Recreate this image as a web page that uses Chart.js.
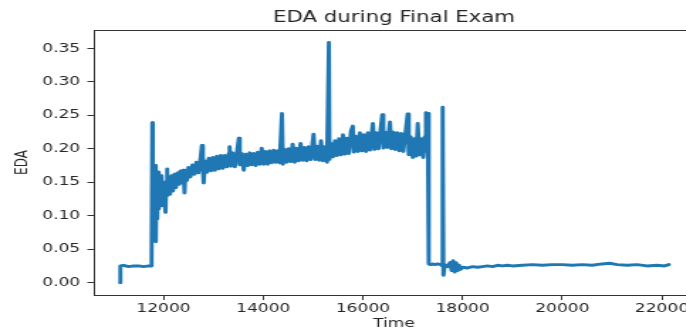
<!DOCTYPE html>
<html>
<head>
<meta charset="utf-8">
<script src="https://cdn.jsdelivr.net/npm/chart.js@4/dist/chart.umd.min.js"></script>
<style>
  html, body { margin: 0; padding: 0; background: #fff; }
  #wrap { width: 686px; height: 332px; overflow: hidden; }
  /* the reference picture is stretched sideways, so the canvas is too */
  #edaChart { transform: scaleX(1.42); transform-origin: 0 0; }
</style>
</head>
<body>
<div id="wrap"><canvas id="edaChart" width="489" height="332"></canvas></div>
<script>
// EDA readings
const timeValues = [
  11130, 11135, 11200, 11300, 11400, 11500, 11600, 11700, 11760,
  11775, 11785, 11800, 11815, 11830, 11845, 11860, 11875, 11890, 11905, 11920, 11940, 11960, 11980,
  12000, 12020, 12040, 12055, 12066, 12080, 12100, 12130, 12160, 12190, 12220, 12250, 12280, 12310,
  12340, 12370, 12400, 12421, 12440, 12470, 12500, 12540, 12580, 12620, 12660, 12700, 12740, 12770,
  12790, 12805, 12830, 12870, 12910, 12950, 12990, 13030, 13070, 13110, 13150, 13190, 13230, 13270,
  13310, 13326, 13350, 13390, 13430, 13470, 13511, 13530, 13570, 13610, 13650, 13690, 13730, 13770,
  13810, 13850, 13890, 13930, 13970, 14010, 14050, 14090, 14130, 14170, 14210, 14250, 14290, 14330,
  14376, 14395, 14430, 14470, 14510, 14550, 14590, 14630, 14670, 14710, 14750, 14790, 14830, 14870,
  14910, 14950, 15010, 15040, 15080, 15120, 15160, 15200, 15240, 15280, 15317, 15330, 15360, 15400,
  15440, 15480, 15520, 15560, 15600, 15640, 15680, 15720, 15760, 15798, 15820, 15860, 15900, 15940,
  15980, 16020, 16060, 16100, 16140, 16200, 16230, 16270, 16310, 16350, 16389, 16410, 16450, 16490,
  16543, 16570, 16610, 16650, 16690, 16730, 16770, 16810, 16850, 16897, 16920, 16960, 17000, 17040,
  17070, 17100, 17130, 17170, 17210, 17240, 17265, 17285, 17300, 17320, 17360, 17400, 17450, 17500,
  17560, 17590, 17600, 17615, 17640, 17700, 17750, 17780, 17810, 17840, 17870, 17900, 17930, 17960,
  18000, 18100, 18200, 18300, 18400, 18500, 18600, 18700, 18800, 18900, 19000, 19200, 19400, 19600,
  19800, 20000, 20200, 20400, 20600, 20800, 20950, 21100, 21300, 21500, 21700, 21900, 22050, 22137
];
const edaValues = [
  0.000, 0.025, 0.026, 0.024, 0.025, 0.025, 0.024, 0.025, 0.025,
  0.239, 0.110, 0.170, 0.080, 0.175, 0.061, 0.160, 0.095, 0.165, 0.110, 0.150, 0.115, 0.160, 0.120,
  0.150, 0.125, 0.105, 0.150, 0.170, 0.130, 0.157, 0.132, 0.160, 0.137, 0.162, 0.142, 0.164, 0.147,
  0.167, 0.149, 0.168, 0.134, 0.167, 0.153, 0.172, 0.158, 0.176, 0.162, 0.180, 0.164, 0.184, 0.205,
  0.168, 0.149, 0.182, 0.165, 0.186, 0.167, 0.187, 0.168, 0.189, 0.170, 0.190, 0.171, 0.190, 0.173,
  0.193, 0.203, 0.174, 0.194, 0.173, 0.193, 0.216, 0.176, 0.193, 0.168, 0.192, 0.175, 0.194, 0.176,
  0.193, 0.175, 0.195, 0.177, 0.201, 0.177, 0.196, 0.177, 0.197, 0.179, 0.198, 0.180, 0.197, 0.179,
  0.253, 0.177, 0.199, 0.180, 0.200, 0.181, 0.207, 0.180, 0.201, 0.182, 0.208, 0.183, 0.202, 0.182,
  0.203, 0.184, 0.222, 0.184, 0.204, 0.183, 0.212, 0.182, 0.203, 0.180, 0.359, 0.184, 0.208, 0.188,
  0.212, 0.190, 0.215, 0.191, 0.221, 0.192, 0.216, 0.193, 0.226, 0.234, 0.195, 0.219, 0.196, 0.224,
  0.197, 0.221, 0.196, 0.224, 0.198, 0.238, 0.199, 0.224, 0.200, 0.226, 0.251, 0.201, 0.225, 0.202,
  0.240, 0.200, 0.225, 0.199, 0.224, 0.197, 0.223, 0.196, 0.221, 0.252, 0.191, 0.218, 0.187, 0.215,
  0.189, 0.238, 0.191, 0.215, 0.187, 0.218, 0.254, 0.196, 0.253, 0.028, 0.027, 0.028, 0.027, 0.028,
  0.027, 0.025, 0.262, 0.011, 0.027, 0.024, 0.030, 0.018, 0.033, 0.016, 0.030, 0.018, 0.026, 0.020,
  0.023, 0.022, 0.024, 0.023, 0.024, 0.025, 0.024, 0.026, 0.025, 0.026, 0.025, 0.026, 0.027, 0.026,
  0.027, 0.027, 0.026, 0.027, 0.026, 0.028, 0.029, 0.027, 0.026, 0.027, 0.025, 0.026, 0.025, 0.027
];
const xTickValues = [12000, 14000, 16000, 18000, 20000, 22000];
const yTickValues = [0.00, 0.05, 0.10, 0.15, 0.20, 0.25, 0.30, 0.35];

const textColor = '#262626';
const fontFamily = '"DejaVu Sans", sans-serif';

// matplotlib style box round the plot
const frameBox = {
    id: 'frameBox',
    afterDraw(chart) {
        const a = chart.chartArea;
        const ctx = chart.ctx;
        ctx.save();
        ctx.strokeStyle = '#333';
        ctx.lineWidth = 1;
        ctx.strokeRect(a.left + 0.5, a.top + 0.5, a.right - a.left - 1, a.bottom - a.top);
        ctx.restore();
    }
};

const ctx = document.getElementById('edaChart');
new Chart(ctx, {
    type: 'line',
    data: {
        datasets: [{
            label: 'EDA',
            data: timeValues.map((t, i) => ({ x: t, y: edaValues[i] })),
            borderColor: '#1f77b4',
            borderWidth: 2.9,
            borderJoinStyle: 'round',
            borderCapStyle: 'round',
            pointRadius: 0,
            tension: 0,
            fill: false
        }]
    },
    options: {
        responsive: false,
        animation: false,
        devicePixelRatio: 1,
        layout: { padding: 0 },
        plugins: {
            legend: { display: false },
            tooltip: { enabled: false },
            title: {
                display: true,
                fullSize: false,
                text: 'EDA during Final Exam',
                color: textColor,
                font: { family: fontFamily, size: 15, weight: 'normal' },
                padding: { top: 9, bottom: 3 }
            }
        },
        scales: {
            x: {
                type: 'linear',
                min: 10600,
                max: 22650,
                afterBuildTicks: s => { s.ticks = xTickValues.map(v => ({ value: v })); },
                afterFit: s => { s.height = 37; },
                border: { display: false },
                grid: { drawOnChartArea: false, tickLength: 5, tickColor: '#333' },
                ticks: {
                    color: textColor,
                    padding: 2,
                    maxRotation: 0,
                    font: { family: fontFamily, size: 12 },
                    callback: v => String(v)
                },
                title: {
                    display: true,
                    text: 'Time',
                    color: textColor,
                    font: { family: fontFamily, size: 12 },
                    padding: { top: 0, bottom: 1 }
                }
            },
            y: {
                min: -0.0184,
                max: 0.3775,
                afterBuildTicks: s => { s.ticks = yTickValues.map(v => ({ value: v })); },
                afterFit: s => { s.width = 66; },
                border: { display: false },
                grid: { drawOnChartArea: false, tickLength: 4.5, tickColor: '#333' },
                ticks: {
                    color: textColor,
                    padding: 5,
                    font: { family: fontFamily, size: 12 },
                    callback: v => v.toFixed(2)
                },
                title: {
                    display: true,
                    text: 'EDA',
                    color: textColor,
                    font: { family: fontFamily, size: 12 },
                    padding: { top: 9, bottom: 0 }
                }
            }
        }
    },
    plugins: [frameBox]
});
</script>
</body>
</html>
